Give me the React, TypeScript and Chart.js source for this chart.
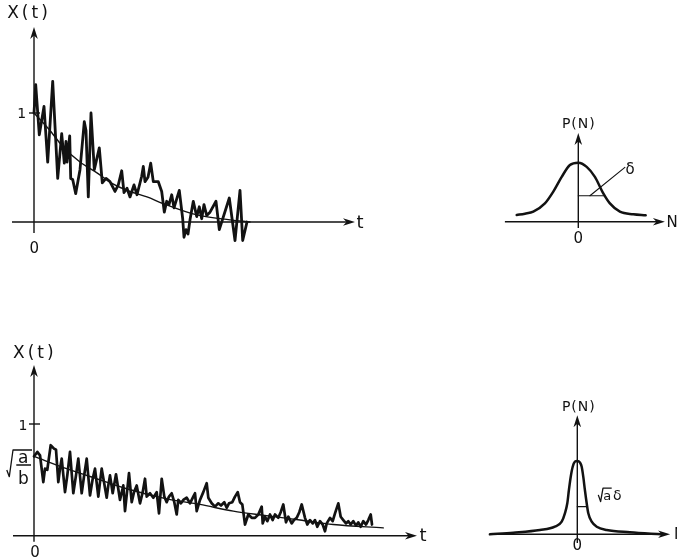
import React, { useEffect, useRef } from "react";
import { Chart, registerables } from "chart.js";

Chart.register(...registerables);

const INK = "#121212";
const FONT = '"DejaVu Sans", "Liberation Sans", Arial, sans-serif';

// ---------- top-left: relaxation X(t) with fluctuations ----------
const relaxTimes = [0, 0.17, 0.53, 1.0, 1.37, 1.87, 2.37, 2.77, 3.03, 3.2, 3.3, 3.57, 3.67, 3.87, 4.17, 4.6, 5.03, 5.2, 5.43, 5.7, 6.03, 6.53, 6.83, 7.2, 7.6, 8.1, 8.43, 8.77, 9.0, 9.3, 9.6, 10.0, 10.3, 10.77, 10.93, 11.1, 11.4, 11.67, 11.93, 12.43, 12.77, 13.03, 13.27, 13.5, 13.77, 14.0, 14.53, 14.87, 15.0, 15.2, 15.4, 15.6, 15.93, 16.27, 16.53, 16.77, 17.0, 17.27, 17.6, 18.2, 18.53, 19.53, 20.1, 20.6, 20.87, 21.3];
const relaxValues = [1.0, 1.26, 0.8, 1.06, 0.55, 1.29, 0.4, 0.81, 0.54, 0.74, 0.55, 0.79, 0.4, 0.39, 0.26, 0.48, 0.92, 0.84, 0.23, 1.0, 0.48, 0.68, 0.36, 0.4, 0.37, 0.28, 0.34, 0.47, 0.27, 0.31, 0.23, 0.34, 0.25, 0.42, 0.51, 0.37, 0.41, 0.54, 0.37, 0.37, 0.28, 0.09, 0.19, 0.16, 0.25, 0.13, 0.29, 0.03, -0.14, -0.07, -0.11, 0.02, 0.19, 0.05, 0.14, 0.03, 0.16, 0.06, 0.09, 0.19, -0.07, 0.22, -0.17, 0.29, -0.17, 0.0];
const relaxMeanTimes = [0, 1.6, 2.9, 4.6, 6.3, 7.9, 9.6, 11.3, 12.9, 16.3, 19.6, 21.6];
const relaxMeanValues = [1.0, 0.84, 0.69, 0.55, 0.45, 0.35, 0.28, 0.23, 0.17, 0.065, 0.02, 0.0];

// ---------- bottom-left: X(t) starting at sqrt(a/b) ----------
const driftNoise: [number, number][] = [
  [0, 0.71], [0.33, 0.75], [0.6, 0.72], [0.93, 0.48], [1.1, 0.6], [1.33, 0.59], [1.67, 0.81], [2.0, 0.78], [2.2, 0.77], [2.43, 0.48],
  [2.6, 0.6], [2.77, 0.69], [3.1, 0.39], [3.33, 0.54], [3.6, 0.75], [3.93, 0.38], [4.2, 0.54], [4.43, 0.69], [4.77, 0.38], [5.0, 0.53],
  [5.27, 0.69], [5.6, 0.36], [5.87, 0.51], [6.1, 0.6], [6.43, 0.35], [6.6, 0.48], [6.77, 0.6], [7.27, 0.34], [7.43, 0.45], [7.6, 0.54],
  [7.87, 0.38], [8.2, 0.55], [8.6, 0.32], [8.93, 0.45], [9.1, 0.22], [9.5, 0.56], [9.77, 0.3], [10.0, 0.39], [10.27, 0.45], [10.6, 0.29],
  [10.87, 0.39], [11.1, 0.51], [11.27, 0.35], [11.6, 0.38], [11.93, 0.34], [12.27, 0.39], [12.5, 0.2], [12.77, 0.51], [13.03, 0.35], [13.27, 0.3],
  [13.5, 0.35], [13.77, 0.38], [14.03, 0.3], [14.27, 0.19], [14.43, 0.32], [14.7, 0.29], [14.93, 0.32], [15.27, 0.34], [15.6, 0.29], [15.93, 0.35],
  [16.1, 0.38], [16.27, 0.22], [16.6, 0.32], [16.93, 0.39], [17.27, 0.47], [17.43, 0.34], [17.77, 0.29], [18.1, 0.26], [18.43, 0.29], [18.7, 0.27],
  [19.03, 0.3], [19.27, 0.25], [19.5, 0.29], [19.83, 0.3], [20.1, 0.35], [20.37, 0.39], [20.6, 0.3], [20.83, 0.28], [21.1, 0.1], [21.43, 0.19],
  [21.77, 0.16], [22.1, 0.16], [22.43, 0.19], [22.77, 0.26], [22.87, 0.11], [23.1, 0.17], [23.33, 0.13], [23.6, 0.19], [23.87, 0.14], [24.1, 0.19],
  [24.43, 0.16], [24.67, 0.21], [24.93, 0.28], [25.2, 0.12], [25.43, 0.17], [25.77, 0.11], [26.0, 0.14], [26.27, 0.16], [26.53, 0.21], [26.77, 0.28],
  [27.1, 0.16], [27.33, 0.1], [27.6, 0.14], [27.87, 0.11], [28.1, 0.14], [28.33, 0.08], [28.6, 0.13], [28.87, 0.1], [29.1, 0.04], [29.27, 0.11],
  [29.6, 0.16], [29.87, 0.13], [30.1, 0.2], [30.43, 0.29], [30.67, 0.17], [30.93, 0.14], [31.2, 0.11], [31.43, 0.13], [31.67, 0.1], [31.93, 0.13],
  [32.2, 0.09], [32.43, 0.12], [32.67, 0.08], [32.93, 0.13], [33.2, 0.1], [33.43, 0.14], [33.67, 0.19], [33.8, 0.1],
];
const driftMean: [number, number][] = [
  [0, 0.71], [3.27, 0.6], [6.6, 0.5], [9.27, 0.42], [13.27, 0.33], [16.6, 0.28], [19.93, 0.22], [23.27, 0.18], [26.6, 0.14], [29.93, 0.1], [34.93, 0.07],
];

// ---------- top-right: broad distribution P(N) ----------
const broadN = [-3.08, -2.67, -2.25, -1.67, -1.25, -0.83, -0.42, 0, 0.42, 0.83, 1.25, 1.58, 2.08, 2.75, 3.37];
const broadP = [0.114, 0.136, 0.17, 0.31, 0.51, 0.76, 0.96, 1.0, 0.93, 0.76, 0.48, 0.31, 0.17, 0.125, 0.108];
const broadHalfWidth: [number, number][] = [[0, 0.44], [1.33, 0.44]];
const broadLeader: [number, number][] = [[0.58, 0.44], [2.33, 0.92]];

// ---------- bottom-right: narrow distribution P(N) ----------
const narrowN = [-4.37, -3.2, -1.87, -1.12, -0.78, -0.62, -0.5, -0.42, -0.33, -0.23, -0.12, 0, 0.13, 0.22, 0.3, 0.38, 0.47, 0.55, 0.72, 0.97, 1.47, 2.63, 4.22];
const narrowP = [0, 0.022, 0.059, 0.105, 0.174, 0.289, 0.427, 0.61, 0.79, 0.93, 1.0, 1.01, 0.99, 0.93, 0.79, 0.61, 0.427, 0.289, 0.174, 0.105, 0.059, 0.028, 0];
const narrowHalfWidth: [number, number][] = [[0, 0.38], [0.47, 0.38]];

const valueTicks = [1];

type TextMark = { text: string; x: number; y: number; size: number; align?: CanvasTextAlign; spacing?: number };
type Radical = { x: number; y: number; kind: "fraction" | "inline" };
type Spec = {
  box: { left: number; top: number; width: number; height: number };
  range: { xMin: number; xMax: number; yMin: number; yMax: number };
  xAxis: [number, number];
  yAxis: [number, number];
  ticks: number[];
  texts: TextMark[];
  radical?: Radical;
  datasets: any[];
};

const pairs = (list: [number, number][]) => list.map(([x, y]) => ({ x, y }));
const zipXY = (xs: number[], ys: number[]) => xs.map((x, i) => ({ x, y: ys[i] }));

const jagged = (data: { x: number; y: number }[], width: number) => ({
  data,
  showLine: true,
  borderColor: INK,
  borderWidth: width,
  pointRadius: 0,
  pointHoverRadius: 0,
  tension: 0,
  borderJoinStyle: "round",
  borderCapStyle: "round",
  fill: false,
});
const smooth = (data: { x: number; y: number }[], width: number) => ({
  ...jagged(data, width),
  cubicInterpolationMode: "monotone",
});

function makePlugin(spec: Spec) {
  return {
    id: "sketchAxes",
    beforeDatasetsDraw(chart: any) {
      const ctx: CanvasRenderingContext2D = chart.ctx;
      const X = (v: number) => chart.scales.x.getPixelForValue(v);
      const Y = (v: number) => chart.scales.y.getPixelForValue(v);
      const ox = X(0);
      const oy = Y(0);
      const x0 = X(spec.xAxis[0]);
      const x1 = X(spec.xAxis[1]);
      const y0 = Y(spec.yAxis[0]);
      const y1 = Y(spec.yAxis[1]);
      ctx.save();
      ctx.strokeStyle = INK;
      ctx.fillStyle = INK;
      ctx.lineWidth = 1.4;
      ctx.beginPath();
      ctx.moveTo(x0, oy);
      ctx.lineTo(x1 - 6, oy);
      ctx.moveTo(ox, y0);
      ctx.lineTo(ox, y1 + 6);
      ctx.stroke();
      ctx.beginPath();
      ctx.moveTo(x1, oy);
      ctx.lineTo(x1 - 12, oy - 3.8);
      ctx.lineTo(x1 - 8.5, oy);
      ctx.lineTo(x1 - 12, oy + 3.8);
      ctx.closePath();
      ctx.moveTo(ox, y1);
      ctx.lineTo(ox - 3.8, y1 + 12);
      ctx.lineTo(ox, y1 + 8.5);
      ctx.lineTo(ox + 3.8, y1 + 12);
      ctx.closePath();
      ctx.fill();
      for (const t of spec.ticks) {
        const ty = Y(t);
        ctx.beginPath();
        ctx.moveTo(ox - 5, ty);
        ctx.lineTo(ox + 6, ty);
        ctx.stroke();
      }
      ctx.restore();
    },
    afterDatasetsDraw(chart: any) {
      const ctx: any = chart.ctx;
      const X = (v: number) => chart.scales.x.getPixelForValue(v);
      const Y = (v: number) => chart.scales.y.getPixelForValue(v);
      ctx.save();
      ctx.fillStyle = INK;
      ctx.strokeStyle = INK;
      ctx.textBaseline = "alphabetic";
      for (const m of spec.texts) {
        const sp = m.spacing || 0;
        ctx.font = `${m.size}px ${FONT}`;
        ctx.textAlign = m.align || "center";
        ctx.letterSpacing = `${sp}px`;
        const shift = (m.align || "center") === "center" ? sp / 2 : 0;
        ctx.fillText(m.text, X(m.x) + shift, Y(m.y));
        ctx.letterSpacing = "0px";
      }
      const r = spec.radical;
      if (r) {
        const ax = X(r.x);
        const ay = Y(r.y);
        ctx.lineWidth = 1.3;
        ctx.lineJoin = "round";
        ctx.textAlign = "center";
        if (r.kind === "fraction") {
          ctx.beginPath();
          ctx.moveTo(ax - 16.5, ay + 5);
          ctx.lineTo(ax - 14, ay + 11.7);
          ctx.lineTo(ax - 10.3, ay - 15);
          ctx.lineTo(ax + 8.7, ay - 15);
          ctx.moveTo(ax - 7, ay);
          ctx.lineTo(ax + 7.7, ay);
          ctx.stroke();
          ctx.font = `17px ${FONT}`;
          ctx.fillText("a", ax, ay - 2.3);
          ctx.fillText("b", ax, ay + 19);
        } else {
          ctx.beginPath();
          ctx.moveTo(ax - 1, ay - 5);
          ctx.lineTo(ax + 1.3, ay + 1.7);
          ctx.lineTo(ax + 3.7, ay - 11.7);
          ctx.lineTo(ax + 12.4, ay - 11.7);
          ctx.stroke();
          ctx.font = `13px ${FONT}`;
          ctx.fillText("a", ax + 8, ay);
          ctx.font = `14px ${FONT}`;
          ctx.fillText("δ", ax + 18, ay);
        }
      }
      ctx.restore();
    },
  };
}

const panels: Spec[] = [
  {
    box: { left: 0, top: 0, width: 380, height: 260 },
    range: { xMin: -3.4, xMax: 34.6, yMin: -0.3486, yMax: 2.0367 },
    xAxis: [-2.2, 32.1],
    yAxis: [-0.1, 1.79],
    ticks: valueTicks,
    texts: [
      { text: "X(t)", x: -0.65, y: 1.869, size: 17, spacing: 3 },
      { text: "t", x: 32.6, y: -0.055, size: 18 },
      { text: "1", x: -1.23, y: 0.954, size: 14 },
      { text: "0", x: 0.03, y: -0.287, size: 15 },
    ],
    datasets: [
      jagged(zipXY(relaxTimes, relaxValues), 2.8),
      smooth(zipXY(relaxMeanTimes, relaxMeanValues), 1.4),
    ],
  },
  {
    box: { left: 480, top: 100, width: 197, height: 150 },
    range: { xMin: -4.915, xMax: 4.935, yMin: -0.4797, yMax: 2.0627 },
    xAxis: [-3.67, 4.33],
    yAxis: [-0.107, 1.503],
    ticks: [],
    texts: [
      { text: "P(N)", x: 0, y: 1.583, size: 14, spacing: 1 },
      { text: "0", x: 0, y: -0.366, size: 15 },
      { text: "N", x: 4.69, y: -0.095, size: 15 },
      { text: "δ", x: 2.59, y: 0.808, size: 15 },
    ],
    datasets: [
      smooth(zipXY(broadN, broadP), 2.5),
      jagged(pairs(broadHalfWidth), 1.2),
      jagged(pairs(broadLeader), 1.1),
    ],
  },
  {
    box: { left: 0, top: 300, width: 440, height: 260 },
    range: { xMin: -3.4, xMax: 40.6, yMin: -0.2175, yMax: 2.1101 },
    xAxis: [-2.1, 38.3],
    yAxis: [-0.054, 1.528],
    ticks: valueTicks,
    texts: [
      { text: "X(t)", x: -0.07, y: 1.588, size: 17, spacing: 3 },
      { text: "t", x: 38.9, y: -0.045, size: 18 },
      { text: "1", x: -1.1, y: 0.947, size: 14 },
      { text: "0", x: 0.1, y: -0.188, size: 15 },
    ],
    radical: { x: -1.07, y: 0.633, kind: "fraction" },
    datasets: [
      jagged(pairs(driftNoise), 2.7),
      smooth(pairs(driftMean), 1.4),
    ],
  },
  {
    box: { left: 480, top: 380, width: 197, height: 180 },
    range: { xMin: -4.865, xMax: 4.985, yMin: -0.354, yMax: 2.1253 },
    xAxis: [-4.37, 4.64],
    yAxis: [-0.12, 1.64],
    ticks: [],
    texts: [
      { text: "P(N)", x: 0.05, y: 1.698, size: 14, spacing: 1 },
      { text: "0", x: 0, y: -0.216, size: 15 },
      { text: "N", x: 4.84, y: -0.065, size: 15, align: "left" },
    ],
    radical: { x: 1.1, y: 0.474, kind: "inline" },
    datasets: [
      smooth(zipXY(narrowN, narrowP), 2.5),
      jagged(pairs(narrowHalfWidth), 1.2),
    ],
  },
];

function Panel({ spec }: { spec: Spec }) {
  const ref = useRef<HTMLCanvasElement | null>(null);
  useEffect(() => {
    if (!ref.current) return;
    const chart = new Chart(ref.current, {
      type: "scatter",
      data: { datasets: spec.datasets },
      options: {
        responsive: false,
        animation: false,
        events: [],
        layout: { padding: 0 },
        plugins: {
          legend: { display: false },
          tooltip: { enabled: false },
          title: { display: false },
        },
        scales: {
          x: { type: "linear", display: false, min: spec.range.xMin, max: spec.range.xMax },
          y: { type: "linear", display: false, min: spec.range.yMin, max: spec.range.yMax },
        },
      },
      plugins: [makePlugin(spec)],
    } as any);
    return () => chart.destroy();
  }, [spec]);
  const { left, top, width, height } = spec.box;
  return (
    <div style={{ position: "absolute", left, top, width, height }}>
      <canvas ref={ref} width={width} height={height} style={{ width, height, display: "block" }} />
    </div>
  );
}

export default function App() {
  return (
    <div
      style={{
        position: "fixed",
        left: 0,
        top: 0,
        width: 677,
        height: 560,
        background: "#ffffff",
        overflow: "hidden",
      }}
    >
      {panels.map((p, i) => (
        <Panel key={i} spec={p} />
      ))}
    </div>
  );
}
